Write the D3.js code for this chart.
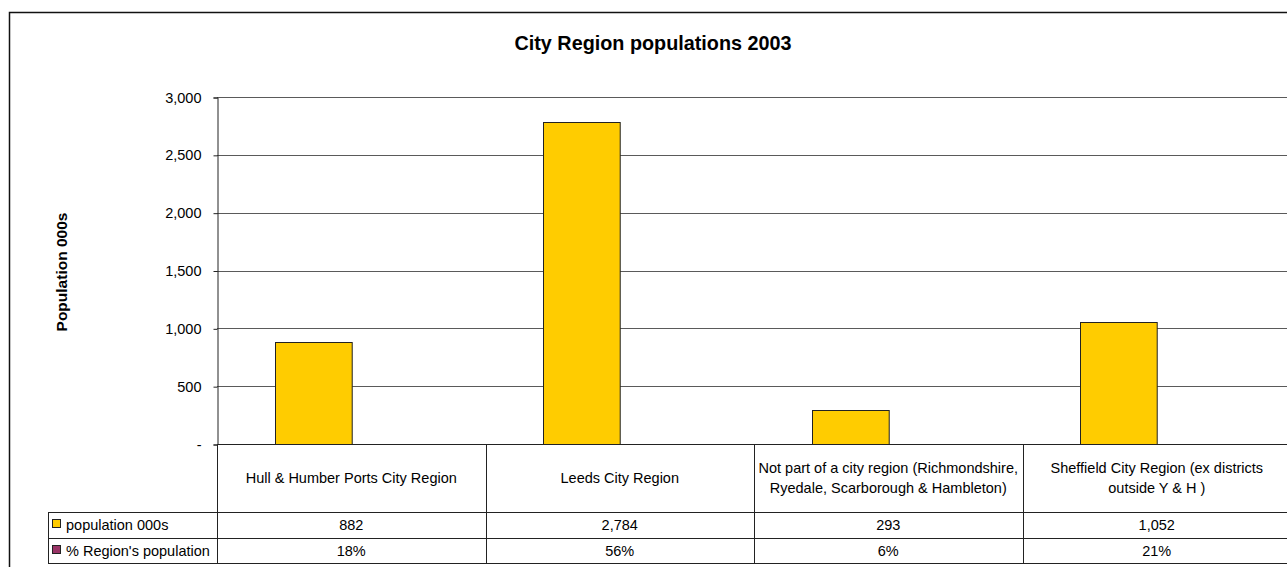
<!DOCTYPE html>
<meta charset="utf-8">
<title>City Region populations 2003</title>
<style>
body { margin: 0; background: #fff; }
svg { display: block; font-family: "Liberation Sans", Arial, sans-serif; }
.grid line { stroke: #5a5a5a; stroke-width: 1px; }
.tbl { stroke: #222; stroke-width: 1px; }
.bar { stroke: #222; stroke-width: 1px; }
</style>
<body>
<script src="https://d3js.org/d3.v7.min.js"></script>
<script>

// chart values
var categories = [
  "Hull & Humber Ports City Region",
  "Leeds City Region",
  "Not part of a city region (Richmondshire, Ryedale, Scarborough & Hambleton)",
  "Sheffield City Region (ex districts outside Y & H )"
];
var categoryLines = [
  ["Hull & Humber Ports City Region"],
  ["Leeds City Region"],
  ["Not part of a city region (Richmondshire,", "Ryedale, Scarborough & Hambleton)"],
  ["Sheffield City Region (ex districts", "outside Y & H )"]
];
var seriesNames = ["population 000s", "% Region's population"];
var population = [882, 2784, 293, 1052];
var regionShare = [0.18, 0.56, 0.06, 0.21];
var seriesColors = ["#FFCC00", "#993366"];
var yTicks = [0, 500, 1000, 1500, 2000, 2500, 3000];

var width = 1287,
    height = 567;

var plot = {left: 217, right: 1291, top: 97, bottom: 444};
var rowTop = [512, 538, 563];
var legendLeft = 48;
var fs = "14.5px";

var svg = d3.select("body").append("svg")
    .attr("width", width)
    .attr("height", height);

// outer chart border (cropped on right and bottom)
svg.append("rect")
    .attr("x", 9.5).attr("y", 12.5)
    .attr("width", 1300).attr("height", 600)
    .attr("fill", "#fff")
    .attr("stroke", "#111")
    .attr("stroke-width", 1.5);

var x = d3.scaleBand()
    .domain(categories)
    .range([plot.left, plot.right]);

var xInner = d3.scaleBand()
    .domain(seriesNames)
    .range([0, x.bandwidth()])
    .paddingOuter(0.75);

var y = d3.scaleLinear()
    .domain([0, 3000])
    .range([plot.bottom, plot.top]);

// gridlines
svg.append("g").attr("class", "grid")
  .selectAll("line")
  .data(yTicks.filter(function(d) { return d > 0; }))
  .enter().append("line")
    .attr("x1", plot.left).attr("x2", plot.right)
    .attr("y1", function(d) { return Math.round(y(d)) + 0.5; })
    .attr("y2", function(d) { return Math.round(y(d)) + 0.5; });

// y axis
var yAxis = d3.axisLeft(y)
    .tickValues(yTicks)
    .tickSize(4)
    .tickPadding(12)
    .tickFormat(function(d) { return d === 0 ? "-" : d3.format(",")(d); });

var gy = svg.append("g")
    .attr("transform", "translate(" + (plot.left + 0.5) + ",0.5)")
    .call(yAxis);
gy.select(".domain").attr("stroke", "#222");
gy.selectAll(".tick line").attr("stroke", "#222");
gy.selectAll(".tick text")
    .attr("fill", "#000")
    .style("font-size", fs)
    .style("font-family", "'Liberation Sans', Arial, sans-serif");

// bars
var rows = [population, regionShare];
rows.forEach(function(vals, s) {
  svg.append("g").selectAll("rect")
    .data(vals)
    .enter().append("rect")
      .attr("class", s === 0 ? "bar" : null)
      .attr("x", function(d, i) { return Math.round(x(categories[i]) + xInner(seriesNames[s])) + 0.5; })
      .attr("width", xInner.bandwidth())
      .attr("y", function(d) { return Math.round(y(d)) + 0.5; })
      .attr("height", function(d) { return Math.max(0, plot.bottom - Math.round(y(d))); })
      .attr("fill", seriesColors[s]);
});

// baseline
svg.append("line").attr("class", "tbl")
    .attr("x1", plot.left).attr("x2", plot.right)
    .attr("y1", plot.bottom + 0.5).attr("y2", plot.bottom + 0.5)
    .attr("stroke-width", 1.5);

// data table lines
var tbl = svg.append("g");
rowTop.forEach(function(ry, i) {
  tbl.append("line").attr("class", "tbl")
    .attr("x1", legendLeft).attr("x2", plot.right)
    .attr("y1", ry + 0.5).attr("y2", ry + 0.5)
    .attr("stroke", i === 2 ? "#777" : "#222")
    .attr("stroke-width", i === 2 ? 2 : 1);
});
categories.concat([null]).forEach(function(c, i) {
  var cx = c === null ? plot.right : x(c);
  tbl.append("line").attr("class", "tbl")
    .attr("x1", Math.round(cx) + 0.5).attr("x2", Math.round(cx) + 0.5)
    .attr("y1", plot.bottom).attr("y2", rowTop[2]);
});
tbl.append("line").attr("class", "tbl")
    .attr("x1", legendLeft + 0.5).attr("x2", legendLeft + 0.5)
    .attr("y1", rowTop[0]).attr("y2", rowTop[2]);

// category labels
categoryLines.forEach(function(lines, i) {
  var cx = x(categories[i]) + x.bandwidth() / 2;
  var cy = (plot.bottom + rowTop[0]) / 2;
  lines.forEach(function(t, j) {
    svg.append("text")
      .attr("x", cx)
      .attr("y", cy + (j - (lines.length - 1) / 2) * 20)
      .attr("dy", "0.35em")
      .attr("text-anchor", "middle")
      .style("font-size", fs)
      .text(t);
  });
});

// legend cells + values
var fmtPop = d3.format(",");
var fmtPct = d3.format(".0%");
rows.forEach(function(vals, s) {
  var cy = (rowTop[s] + rowTop[s + 1]) / 2;
  svg.append("rect")
    .attr("x", 52.5).attr("y", Math.round(cy) - 5.5)
    .attr("width", 8).attr("height", 8)
    .attr("fill", seriesColors[s])
    .attr("stroke", "#222");
  svg.append("text")
    .attr("x", 66).attr("y", cy)
    .attr("dy", "0.35em")
    .style("font-size", fs)
    .text(seriesNames[s]);
  vals.forEach(function(v, i) {
    svg.append("text")
      .attr("x", x(categories[i]) + x.bandwidth() / 2)
      .attr("y", cy)
      .attr("dy", "0.35em")
      .attr("text-anchor", "middle")
      .style("font-size", fs)
      .text(s === 0 ? fmtPop(v) : fmtPct(v));
  });
});

// titles
svg.append("text")
    .attr("x", 653).attr("y", 50)
    .attr("text-anchor", "middle")
    .style("font-size", "19.8px")
    .style("font-weight", "bold")
    .text("City Region populations 2003");

svg.append("text")
    .attr("transform", "translate(67,272) rotate(-90)")
    .attr("text-anchor", "middle")
    .style("font-size", "15.5px")
    .style("font-weight", "bold")
    .text("Population 000s");

</script>
</body>
